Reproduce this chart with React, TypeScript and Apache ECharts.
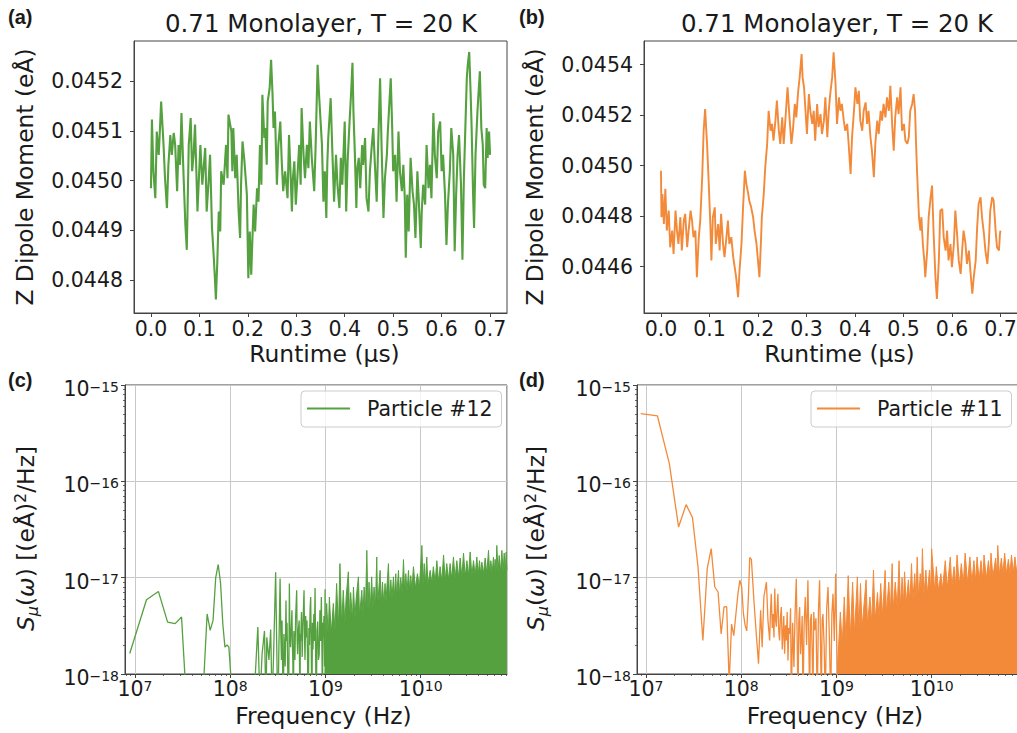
import React, { useEffect, useRef } from "react";
import * as echarts from "echarts";

// ---------- (a) Z dipole moment, particle #12 ----------
const runtimeA = [0.000,0.002,0.005,0.009,0.012,0.016,0.019,0.021,0.026,0.029,0.033,0.036,0.040,0.043,0.047,0.050,0.054,0.057,0.060,0.063,0.067,0.071,0.074,0.078,0.082,0.085,0.088,0.091,0.096,0.102,0.106,0.112,0.115,0.119,0.122,0.126,0.129,0.132,0.134,0.137,0.140,0.143,0.145,0.150,0.155,0.158,0.160,0.166,0.168,0.170,0.174,0.177,0.181,0.184,0.186,0.189,0.193,0.198,0.201,0.204,0.207,0.209,0.212,0.215,0.219,0.222,0.225,0.228,0.230,0.234,0.236,0.239,0.241,0.245,0.248,0.251,0.253,0.256,0.260,0.263,0.267,0.270,0.273,0.277,0.282,0.285,0.288,0.291,0.293,0.296,0.299,0.301,0.306,0.309,0.311,0.315,0.318,0.322,0.325,0.328,0.332,0.337,0.340,0.344,0.347,0.353,0.356,0.359,0.362,0.364,0.366,0.371,0.374,0.378,0.382,0.385,0.389,0.392,0.395,0.400,0.403,0.406,0.410,0.413,0.416,0.418,0.421,0.424,0.426,0.429,0.432,0.436,0.438,0.442,0.445,0.449,0.452,0.456,0.459,0.462,0.466,0.469,0.473,0.476,0.480,0.483,0.487,0.489,0.492,0.495,0.498,0.500,0.504,0.507,0.511,0.514,0.518,0.521,0.524,0.526,0.529,0.532,0.536,0.540,0.543,0.546,0.550,0.553,0.557,0.559,0.562,0.566,0.569,0.573,0.576,0.579,0.583,0.586,0.590,0.593,0.597,0.600,0.603,0.607,0.610,0.613,0.617,0.620,0.624,0.627,0.630,0.633,0.636,0.640,0.643,0.646,0.649,0.652,0.654,0.657,0.660,0.662,0.665,0.667,0.670,0.674,0.676,0.679,0.682,0.685,0.687,0.690,0.693,0.695,0.698,0.700];
const dipoleA = [0.044985,0.045123,0.045019,0.044965,0.045099,0.045052,0.045113,0.045159,0.045072,0.045005,0.044945,0.045032,0.045092,0.045052,0.045096,0.045072,0.044979,0.045072,0.045032,0.045136,0.045019,0.044912,0.044861,0.045072,0.045126,0.045019,0.045052,0.045113,0.044938,0.045072,0.044992,0.045066,0.044938,0.044999,0.045052,0.044905,0.044858,0.044804,0.044761,0.044838,0.044938,0.044898,0.045019,0.044992,0.045072,0.045005,0.045133,0.045099,0.045019,0.045106,0.045005,0.045052,0.044938,0.044885,0.044992,0.045079,0.045039,0.044972,0.044804,0.044898,0.044811,0.044871,0.044952,0.044898,0.044985,0.044958,0.045072,0.044992,0.045173,0.045086,0.045106,0.045032,0.045159,0.045186,0.045243,0.045173,0.045106,0.045139,0.044992,0.045072,0.045119,0.045039,0.044979,0.045019,0.044965,0.045092,0.045019,0.044938,0.045005,0.045039,0.044952,0.044985,0.045072,0.044992,0.045146,0.045052,0.045005,0.045072,0.045025,0.045119,0.045046,0.044979,0.045072,0.045233,0.045173,0.045072,0.044958,0.045019,0.044925,0.045032,0.045086,0.045166,0.045072,0.044958,0.045052,0.044992,0.044945,0.045046,0.044992,0.045119,0.044938,0.045039,0.045119,0.045173,0.045237,0.045139,0.045052,0.044945,0.045025,0.045046,0.044985,0.045072,0.045032,0.045086,0.044965,0.044938,0.045019,0.045072,0.045106,0.045039,0.044958,0.045072,0.045206,0.045072,0.044925,0.045005,0.045052,0.045099,0.045153,0.045206,0.045106,0.045019,0.045052,0.044958,0.045099,0.045019,0.044979,0.045032,0.044965,0.044845,0.044972,0.044898,0.045046,0.044979,0.044952,0.044885,0.045019,0.044958,0.044865,0.044938,0.044992,0.044952,0.045072,0.044985,0.045032,0.044965,0.045136,0.045052,0.045005,0.045099,0.045119,0.045019,0.045052,0.044972,0.044871,0.044952,0.045019,0.045106,0.045052,0.044858,0.044972,0.045052,0.045092,0.044992,0.044841,0.045005,0.045106,0.045206,0.045233,0.045259,0.045173,0.045106,0.044972,0.044905,0.045052,0.045139,0.045173,0.045220,0.045106,0.045072,0.044992,0.044985,0.045106,0.045046,0.045099,0.045052];

// ---------- (b) Z dipole moment, particle #11 ----------
const runtimeB = [0.000,0.001,0.003,0.006,0.009,0.012,0.016,0.019,0.023,0.026,0.030,0.033,0.036,0.040,0.043,0.047,0.050,0.054,0.057,0.061,0.064,0.067,0.071,0.074,0.078,0.081,0.085,0.088,0.091,0.095,0.098,0.102,0.104,0.107,0.111,0.113,0.118,0.121,0.124,0.128,0.131,0.135,0.138,0.141,0.145,0.149,0.152,0.155,0.159,0.162,0.166,0.169,0.173,0.176,0.180,0.182,0.186,0.190,0.193,0.197,0.200,0.203,0.206,0.208,0.212,0.215,0.219,0.222,0.226,0.229,0.232,0.236,0.239,0.243,0.246,0.250,0.253,0.256,0.261,0.265,0.269,0.272,0.276,0.279,0.283,0.286,0.290,0.292,0.295,0.298,0.301,0.305,0.308,0.312,0.315,0.318,0.322,0.325,0.329,0.332,0.336,0.339,0.343,0.346,0.349,0.353,0.356,0.360,0.363,0.367,0.370,0.373,0.377,0.380,0.384,0.387,0.391,0.394,0.398,0.401,0.405,0.408,0.411,0.415,0.418,0.422,0.425,0.428,0.432,0.435,0.439,0.442,0.446,0.449,0.453,0.456,0.459,0.463,0.466,0.470,0.473,0.477,0.480,0.483,0.487,0.490,0.494,0.497,0.501,0.504,0.508,0.511,0.514,0.518,0.521,0.524,0.526,0.528,0.530,0.532,0.535,0.537,0.540,0.543,0.545,0.549,0.552,0.556,0.559,0.562,0.566,0.569,0.573,0.576,0.580,0.583,0.587,0.590,0.593,0.597,0.600,0.604,0.607,0.611,0.614,0.618,0.621,0.624,0.628,0.631,0.635,0.638,0.642,0.645,0.649,0.652,0.655,0.659,0.662,0.666,0.669,0.673,0.676,0.679,0.683,0.686,0.690,0.693,0.697,0.699,0.700];
const dipoleB = [0.044980,0.044796,0.044888,0.044769,0.044908,0.044743,0.044822,0.044677,0.044743,0.044651,0.044822,0.044743,0.044690,0.044796,0.044664,0.044783,0.044809,0.044677,0.044743,0.044822,0.044783,0.044717,0.044743,0.044559,0.044717,0.044783,0.044954,0.045138,0.045224,0.045086,0.044954,0.044756,0.044625,0.044796,0.044835,0.044690,0.044769,0.044664,0.044809,0.044690,0.044638,0.044717,0.044783,0.044690,0.044717,0.044638,0.044598,0.044559,0.044480,0.044585,0.044690,0.044822,0.044980,0.044928,0.044888,0.044862,0.044835,0.044796,0.044743,0.044690,0.044625,0.044559,0.044690,0.044796,0.044888,0.044993,0.045086,0.045217,0.045138,0.045165,0.045099,0.045178,0.045257,0.045138,0.045086,0.045191,0.045086,0.045165,0.045310,0.045191,0.045086,0.045138,0.045244,0.045191,0.045296,0.045349,0.045441,0.045349,0.045310,0.045217,0.045125,0.045283,0.045217,0.045165,0.045217,0.045099,0.045244,0.045152,0.045204,0.045125,0.045178,0.045270,0.045112,0.045217,0.045283,0.045349,0.045448,0.045323,0.045165,0.045270,0.045217,0.045244,0.045178,0.045138,0.045165,0.045086,0.044967,0.045112,0.045217,0.045310,0.045244,0.045296,0.045178,0.045138,0.045217,0.045250,0.045165,0.045217,0.045112,0.045059,0.044954,0.045086,0.045178,0.045125,0.045217,0.045178,0.045244,0.045191,0.045270,0.045217,0.045316,0.045152,0.045059,0.045191,0.045270,0.045204,0.045310,0.045138,0.045165,0.045099,0.045086,0.045112,0.045217,0.045244,0.045283,0.045217,0.045086,0.044980,0.044888,0.044796,0.044743,0.044796,0.044690,0.044625,0.044559,0.044664,0.044796,0.044875,0.044921,0.044743,0.044559,0.044473,0.044625,0.044822,0.044829,0.044717,0.044664,0.044743,0.044625,0.044690,0.044598,0.044690,0.044822,0.044717,0.044625,0.044572,0.044664,0.044743,0.044690,0.044611,0.044664,0.044585,0.044493,0.044559,0.044625,0.044756,0.044848,0.044875,0.044796,0.044730,0.044664,0.044611,0.044690,0.044822,0.044875,0.044862,0.044743,0.044677,0.044664,0.044730,0.044743];

// ---------- (c) spectral density, particle #12 ----------
const freqC = [8.8e6,1.32e7,1.76e7,2.2e7,2.64e7,3.08e7,3.52e7,3.96e7,4.4e7,4.84e7,5.28e7,5.72e7,6.16e7,6.6e7,7.04e7,7.48e7,7.92e7,8.36e7,8.8e7,9.24e7,9.68e7,1.012e8,1.056e8,1.2e8,1.45e8,1.68e8,1.72e8,1.95e8,2.05e8,2.16e8,2.29e8,2.38e8,2.42e8,2.55e8,2.66e8,2.75e8,2.85e8,3.0e8,3.08e8,3.16e8,3.24e8,3.34e8,3.40e8,3.45e8,3.50e8,3.55e8,3.62e8,3.66e8,3.70e8,3.78e8,3.85e8,3.90e8,3.95e8,4.02e8,4.10e8,4.18e8,4.24e8,4.30e8,4.38e8,4.45e8,4.50e8,4.55e8,4.61e8,4.66e8,4.70e8,4.78e8,4.86e8,4.99e8,5.05e8,5.1e8,5.2e8,5.3e8,5.4e8,5.45e8,5.5e8,5.6e8,5.7e8,5.8e8,5.96e8,6.05e8,6.1e8,6.2e8,6.3e8,6.4e8,6.5e8,6.6e8,6.7e8,6.8e8,6.9e8,7.0e8,7.1e8,7.2e8,7.3e8,7.4e8,7.55e8,7.65e8,7.78e8,7.9e8,8.0e8,8.15e8,8.3e8,8.45e8,8.6e8,8.75e8,8.9e8,9.06e8,9.2e8,9.3e8,9.4e8,9.5e8,9.65e8,9.8e8,9.91e8,1.0e9];
const psdC = [1.63e-18,5.9e-18,7.2e-18,3.46e-18,3.33e-18,3.9e-18,4e-19,2e-19,2e-19,3e-19,9e-19,4.2e-18,2.84e-18,3.6e-18,1.0e-17,1.37e-17,8.7e-18,3.3e-18,1.9e-18,2.0e-18,1.9e-18,1.0e-18,3e-19,2e-19,2e-19,3e-19,3e-19,3.07e-18,5e-19,1.6e-18,2.8e-18,4e-19,2.4e-18,1.4e-18,2.9e-18,5e-19,1.5e-18,1.14e-17,2.0e-18,3e-19,1.7e-18,9.8e-18,2.6e-18,1.4e-18,3.6e-18,1.2e-18,4e-19,2.6e-18,2.0e-18,1.2e-18,5.8e-18,2.2e-18,3.4e-18,1.1e-18,3e-19,8.7e-18,2.5e-18,1.9e-18,3.1e-18,4.6e-18,2.0e-18,1.3e-18,3e-19,2.8e-18,2.4e-18,1.4e-18,3.8e-18,7.4e-18,2.2e-18,1.6e-18,2.9e-18,3.6e-18,3e-19,2.6e-18,2.2e-18,4.4e-18,1.5e-18,3.2e-18,7.4e-18,2.0e-18,1.4e-18,4.0e-18,2.4e-18,3.6e-18,1.2e-18,3e-19,3.0e-18,2.0e-18,4.8e-18,6.3e-18,1.8e-18,3e-19,3.4e-18,1.8e-18,4.2e-18,2.2e-18,7.8e-18,1.4e-18,3e-19,2.8e-18,3.5e-18,1.4e-18,1.6e-18,4.6e-18,2.2e-18,6.3e-18,1.6e-18,3e-19,3.4e-18,2.4e-18,4.0e-18,1.2e-18,7.6e-18,1.0e-18];
const freqCDense = [9.9e8,1.03e9,1.07e9,1.10e9,1.15e9,1.21e9,1.26e9,1.31e9,1.37e9,1.42e9,1.48e9,1.54e9,1.60e9,1.65e9,1.74e9,1.80e9,1.84e9,1.92e9,1.97e9,2.04e9,2.10e9,2.22e9,2.28e9,2.41e9,2.48e9,2.55e9,2.63e9,2.72e9,2.80e9,2.87e9,2.95e9,3.06e9,3.15e9,3.24e9,3.35e9,3.46e9,3.53e9,3.75e9,3.85e9,3.97e9,4.10e9,4.23e9,4.32e9,4.59e9,4.70e9,4.86e9,5.0e9,5.18e9,5.3e9,5.48e9,5.6e9,5.85e9,6.0e9,6.18e9,6.4e9,6.60e9,6.8e9,6.98e9,7.2e9,7.45e9,7.65e9,7.87e9,8.1e9,8.40e9,8.8e9,9.25e9,9.7e9,1.03e10,1.06e10,1.09e10,1.12e10,1.16e10,1.19e10,1.26e10,1.31e10,1.36e10,1.42e10,1.48e10,1.54e10,1.60e10,1.67e10,1.74e10,1.81e10,1.88e10,1.96e10,2.04e10,2.12e10,2.21e10,2.30e10,2.40e10,2.50e10,2.60e10,2.71e10,2.82e10,2.94e10,3.06e10,3.18e10,3.31e10,3.45e10,3.59e10,3.74e10,3.89e10,4.02e10,4.15e10,4.27e10,4.39e10,4.57e10,4.76e10,4.95e10,5.16e10,5.30e10,5.46e10,5.64e10,5.82e10,5.95e10,6.06e10,6.18e10,6.31e10,6.50e10,6.68e10,6.90e10,7.13e10,7.34e10,7.54e10,7.72e10,7.91e10,8.05e10];
const psdCDense = [1.0e-18,5.4e-18,2.4e-18,6.3e-18,2.6e-18,5.4e-18,2.8e-18,8.7e-18,3.0e-18,1.40e-17,3.2e-18,7.4e-18,3.3e-18,6.3e-18,1.15e-17,3.5e-18,7.0e-18,3.6e-18,8.0e-18,3.8e-18,6.0e-18,1.02e-17,4.0e-18,7.4e-18,4.2e-18,8.0e-18,4.4e-18,1.92e-17,4.6e-18,9.0e-18,4.6e-18,1.02e-17,4.8e-18,8.0e-18,5.0e-18,1.64e-17,5.0e-18,1.19e-17,5.2e-18,9.0e-18,5.4e-18,8.7e-18,5.6e-18,1.40e-17,5.8e-18,9.5e-18,6.0e-18,1.02e-17,6.2e-18,1.1e-17,6.3e-18,1.19e-17,6.5e-18,1.0e-17,6.7e-18,1.54e-17,6.9e-18,1.1e-17,7.1e-18,1.19e-17,7.3e-18,1.05e-17,7.5e-18,1.30e-17,7.8e-18,1.1e-17,8.0e-18,2.16e-17,8.3e-18,1.4e-17,8.4e-18,1.64e-17,8.5e-18,1.19e-17,8.7e-18,1.3e-17,8.9e-18,1.50e-17,9.0e-18,1.3e-17,9.2e-18,1.72e-17,9.3e-18,1.4e-17,9.5e-18,1.4e-17,9.6e-18,1.64e-17,9.8e-18,1.5e-17,1.0e-17,1.6e-17,1.0e-17,1.8e-17,1.02e-17,1.5e-17,1.04e-17,1.85e-17,1.05e-17,1.5e-17,1.06e-17,1.64e-17,1.07e-17,1.5e-17,1.08e-17,1.45e-17,1.1e-17,1.6e-17,1.1e-17,1.92e-17,1.12e-17,1.5e-17,1.12e-17,1.64e-17,1.13e-17,1.55e-17,1.13e-17,2.16e-17,1.14e-17,1.7e-17,1.15e-17,1.92e-17,1.15e-17,1.8e-17,1.16e-17,1.85e-17,1.2e-17];

// ---------- (d) spectral density, particle #11 ----------
const freqD = [8.8e6,1.32e7,1.76e7,2.2e7,2.64e7,3.08e7,3.52e7,3.96e7,4.4e7,4.84e7,5.28e7,5.72e7,6.16e7,6.6e7,7.04e7,7.48e7,7.92e7,8.36e7,8.8e7,9.24e7,9.68e7,1.012e8,1.056e8,1.10e8,1.144e8,1.19e8,1.23e8,1.28e8,1.36e8,1.44e8,1.52e8,1.60e8,1.66e8,1.73e8,1.84e8,1.91e8,1.99e8,2.03e8,2.07e8,2.12e8,2.16e8,2.21e8,2.25e8,2.30e8,2.34e8,2.39e8,2.43e8,2.48e8,2.53e8,2.58e8,2.64e8,2.70e8,2.75e8,2.80e8,2.86e8,2.92e8,2.98e8,3.04e8,3.10e8,3.16e8,3.23e8,3.30e8,3.36e8,3.47e8,3.58e8,3.68e8,3.79e8,3.87e8,3.95e8,4.03e8,4.11e8,4.20e8,4.28e8,4.37e8,4.46e8,4.58e8,4.71e8,4.86e8,5.02e8,5.12e8,5.23e8,5.34e8,5.45e8,5.56e8,5.67e8,5.78e8,5.90e8,6.10e8,6.29e8,6.48e8,6.66e8,6.80e8,6.94e8,7.08e8,7.22e8,7.43e8,7.64e8,7.90e8,8.16e8,8.43e8,8.71e8,8.96e8,9.21e8,9.50e8,9.82e8,1.01e9,1.04e9];
const psdD = [5.05e-16,4.77e-16,1.53e-16,3.36e-17,5.73e-17,4.2e-17,1.29e-17,2.23e-18,1.24e-17,2.0e-17,8.0e-18,7.1e-18,2.6e-18,4.96e-18,5.0e-18,8e-19,3.3e-18,2.5e-18,4.2e-18,6.8e-18,9.4e-18,8.0e-18,4.2e-18,3.2e-18,2.8e-18,6.3e-18,1.62e-17,1.55e-17,5.8e-18,2.6e-18,1.28e-18,4.6e-18,1.9e-18,6.3e-18,9.0e-18,3.6e-18,2.23e-18,4.4e-18,6.8e-18,3.0e-18,4.2e-18,2.4e-18,7.7e-18,3.6e-18,3.1e-18,5.0e-18,6.8e-18,2.8e-18,2.23e-18,3.8e-18,4.95e-18,1.8e-18,2.6e-18,4.0e-18,1.62e-18,3.2e-18,2.23e-18,4.4e-18,1.38e-18,3.0e-18,2.6e-18,4.8e-18,5e-19,3.4e-18,1.18e-18,4.2e-18,9.75e-18,2.4e-18,5e-19,3.6e-18,4.95e-18,1.6e-18,2.23e-18,4.0e-18,5e-19,3.2e-18,6.3e-18,2.0e-18,9.4e-18,2.6e-18,5e-19,3.6e-18,4.2e-18,1.8e-18,5e-19,4.4e-18,2.84e-18,3.8e-18,5e-19,4.6e-18,9.4e-18,2.2e-18,5e-19,3.6e-18,4.2e-18,2.0e-18,5e-19,4.8e-18,8.0e-18,2.4e-18,5e-19,4.2e-18,6.8e-18,2.2e-18,1.10e-17,2.0e-18,5e-19];
const freqDDense = [1.0e9,1.04e9,1.10e9,1.15e9,1.21e9,1.26e9,1.33e9,1.40e9,1.48e9,1.55e9,1.66e9,1.72e9,1.79e9,1.86e9,2.05e9,2.12e9,2.25e9,2.35e9,2.45e9,2.55e9,2.70e9,2.80e9,2.92e9,3.05e9,3.25e9,3.35e9,3.55e9,3.68e9,3.85e9,3.95e9,4.15e9,4.35e9,4.55e9,4.70e9,4.90e9,5.05e9,5.20e9,5.40e9,5.70e9,5.90e9,6.15e9,6.35e9,6.65e9,6.85e9,7.05e9,7.30e9,7.60e9,7.80e9,8.0e9,8.3e9,8.7e9,9.0e9,9.5e9,9.8e9,1.0e10,1.08e10,1.12e10,1.18e10,1.25e10,1.30e10,1.39e10,1.46e10,1.57e10,1.63e10,1.72e10,1.78e10,1.85e10,1.95e10,2.05e10,2.15e10,2.25e10,2.38e10,2.52e10,2.65e10,2.78e10,2.90e10,3.0e10,3.15e10,3.30e10,3.45e10,3.55e10,3.75e10,3.95e10,4.10e10,4.20e10,4.40e10,4.70e10,4.85e10,4.95e10,5.15e10,5.40e10,5.60e10,5.85e10,6.10e10,6.40e10,6.65e10,6.90e10,7.20e10,7.50e10,7.80e10,8.05e10,8.25e10];
const psdDDense = [5e-19,1.5e-18,4.4e-18,2.0e-18,6.3e-18,2.2e-18,1.05e-17,2.4e-18,9.0e-18,2.6e-18,1.02e-17,2.8e-18,8.7e-18,3.0e-18,9.5e-18,3.2e-18,6.3e-18,3.4e-18,1.2e-17,3.6e-18,7.0e-18,3.8e-18,8.7e-18,4.0e-18,1.19e-17,4.2e-18,9.0e-18,4.4e-18,1.4e-17,4.6e-18,9.0e-18,4.8e-18,1.5e-17,5.0e-18,1.0e-17,5.2e-18,1.15e-17,5.4e-18,9.5e-18,5.6e-18,1.4e-17,5.8e-18,1.1e-17,6.0e-18,1.64e-17,6.2e-18,1.1e-17,6.4e-18,2.0e-17,6.6e-18,1.2e-17,6.8e-18,1.2e-17,7.0e-18,2.0e-17,7.2e-18,1.3e-17,7.4e-18,1.1e-17,7.6e-18,1.5e-17,7.8e-18,1.64e-17,8.0e-18,1.3e-17,8.2e-18,1.72e-17,8.4e-18,1.4e-17,8.6e-18,1.8e-17,8.8e-18,1.64e-17,9.0e-18,1.5e-17,9.2e-18,1.64e-17,9.4e-18,1.5e-17,9.6e-18,1.72e-17,9.8e-18,1.5e-17,1.0e-17,1.8e-17,1.02e-17,1.6e-17,1.04e-17,2.16e-17,1.06e-17,1.6e-17,1.08e-17,1.8e-17,1.1e-17,1.55e-17,1.1e-17,1.72e-17,1.12e-17,1.64e-17,1.13e-17,1.5e-17,1.2e-17];

// ---------- tick labels ----------
const runtimeTicks = [0.0, 0.1, 0.2, 0.3, 0.4, 0.5, 0.6, 0.7];
const dipoleTicksA = [0.0448, 0.0449, 0.045, 0.0451, 0.0452];
const dipoleTicksB = [0.0446, 0.0448, 0.045, 0.0452, 0.0454];

const FONT = "'DejaVu Sans', 'Noto Sans', sans-serif";
const PANEL_FAMILY = "'Liberation Sans', Arial, sans-serif";
const GREEN = "#55a13f";
const ORANGE = "#f28a3a";
const INK = "#1a1a1a";
const FRAME = "#444444";
const GRIDC = "#c9c9c9";

const pairs = (xs: number[], ys: number[]) => {
  const n = Math.min(xs.length, ys.length);
  const out: number[][] = [];
  for (let i = 0; i < n; i++) out.push([xs[i], ys[i]]);
  return out;
};

const logLabel = (v: number) => {
  const e = Math.round(Math.log10(v));
  return `{b|10}{s|${e < 0 ? "\u2212" + -e : e}}`;
};
const supRich = {
  b: { fontFamily: FONT, fontSize: 20.5, lineHeight: 20, verticalAlign: "bottom", color: INK },
  s: { fontFamily: FONT, fontSize: 14, lineHeight: 10, verticalAlign: "top", color: INK },
};

const minorList = (lo: number, hi: number) => {
  const out: number[] = [];
  for (let e = -20; e <= 12; e++) {
    for (let m = 2; m <= 9; m++) {
      const v = m * Math.pow(10, e);
      if (v > lo && v < hi) out.push(v);
    }
  }
  return out;
};

function timeAxis(gridIndex: number, padLeft: number) {
  return {
    type: "value", gridIndex, min: -0.035, max: 0.735, minInterval: 0.1, maxInterval: 0.1,
    name: "Runtime (µs)", nameLocation: "middle", nameGap: 27,
    nameTextStyle: { fontFamily: FONT, fontSize: 23.4, color: INK, lineHeight: 28, padding: [0, 0, 0, padLeft] },
    axisLine: { show: true, onZero: false, lineStyle: { color: FRAME, width: 1 } },
    axisTick: { show: true, inside: false, length: 4, lineStyle: { color: FRAME, width: 1 }, customValues: runtimeTicks },
    axisLabel: { show: true, interval: 0, margin: 5, fontFamily: FONT, fontSize: 20.5, color: INK, formatter: (v: number) => v.toFixed(1), customValues: runtimeTicks },
    splitLine: { show: false },
  };
}

function dipoleAxis(gridIndex: number, min: number, max: number, step: number, ticks: number[]) {
  return {
    type: "value", gridIndex, min, max, minInterval: step, maxInterval: step,
    name: "Z Dipole Moment (eÅ)", nameLocation: "middle", nameGap: 95,
    nameTextStyle: { fontFamily: FONT, fontSize: 23.4, color: INK, lineHeight: 28 },
    axisLine: { show: true, onZero: false, lineStyle: { color: FRAME, width: 1 } },
    axisTick: { show: true, inside: false, length: 4, lineStyle: { color: FRAME, width: 1 }, customValues: ticks },
    axisLabel: { show: true, interval: 0, margin: 11, fontFamily: FONT, fontSize: 20.5, color: INK, formatter: (v: number) => v.toFixed(4), customValues: ticks },
    splitLine: { show: false },
  };
}

function freqAxis(gridIndex: number, min: number, max: number, padLeft: number) {
  return {
    type: "log", logBase: 10, gridIndex, min, max,
    name: "Frequency (Hz)", nameLocation: "middle", nameGap: 31,
    nameTextStyle: { fontFamily: FONT, fontSize: 23.4, color: INK, lineHeight: 22, padding: [0, 0, 0, padLeft] },
    axisLine: { show: true, onZero: false, lineStyle: { color: FRAME, width: 1 } },
    axisTick: { show: true, inside: false, length: 4, lineStyle: { color: FRAME, width: 1 } },
    axisLabel: { show: true, interval: 0, margin: 5, showMinLabel: false, showMaxLabel: false, formatter: logLabel, rich: supRich },
    splitLine: { show: true, lineStyle: { color: GRIDC, width: 1 } },
    minorTick: { show: false },
  };
}

function psdAxis(gridIndex: number, nameGap: number) {
  return {
    type: "log", logBase: 10, gridIndex, min: 1e-18, max: 1e-15,
    name: "{i|S}{sub|μ}{n|(}{i|ω}{n|) [(eÅ)}{sup|2}{n|/Hz]}",
    nameLocation: "middle", nameGap,
    nameTextStyle: {
      fontFamily: FONT, fontSize: 23.4, color: INK, lineHeight: 28, padding: [0, 18, 0, 0],
      rich: {
        i: { fontFamily: FONT, fontStyle: "italic", fontSize: 23.4, lineHeight: 28, color: INK },
        n: { fontFamily: FONT, fontSize: 23.4, lineHeight: 28, color: INK },
        sub: { fontFamily: FONT, fontStyle: "italic", fontSize: 16, lineHeight: 16, verticalAlign: "bottom", color: INK },
        sup: { fontFamily: FONT, fontSize: 16, lineHeight: 16, verticalAlign: "top", color: INK },
      },
    },
    axisLine: { show: true, onZero: false, lineStyle: { color: FRAME, width: 1 } },
    axisTick: { show: true, inside: false, length: 4, lineStyle: { color: FRAME, width: 1 } },
    axisLabel: { show: true, interval: 0, margin: 6, padding: [9, 0, 0, 0], formatter: logLabel, rich: supRich },
    splitLine: { show: true, lineStyle: { color: GRIDC, width: 1 } },
  };
}

function minorX(gridIndex: number, min: number, max: number) {
  return {
    type: "log", logBase: 10, gridIndex, min, max, position: "bottom",
    axisLine: { show: false }, axisLabel: { show: false }, splitLine: { show: false },
    axisTick: { show: true, inside: false, length: 2, lineStyle: { color: FRAME, width: 0.8 }, customValues: minorList(min, max) },
  };
}
function minorY(gridIndex: number) {
  return {
    type: "log", logBase: 10, gridIndex, min: 1e-18, max: 1e-15, position: "left",
    axisLine: { show: false }, axisLabel: { show: false }, splitLine: { show: false },
    axisTick: { show: true, inside: false, length: 2, lineStyle: { color: FRAME, width: 0.8 }, customValues: minorList(1e-18, 1e-15) },
  };
}

const legendBase = {
  orient: "horizontal", itemWidth: 43, itemHeight: 2, itemGap: 0,
  padding: [5, 9, 6, 6], selectedMode: false,
  borderColor: "#cccccc", borderWidth: 1, borderRadius: 4, backgroundColor: "rgba(255,255,255,0.8)",
  textStyle: { fontFamily: FONT, fontSize: 20.5, color: INK, lineHeight: 25, padding: [0, 0, 0, 12] },
};

const gridBase = { show: true, borderColor: FRAME, borderWidth: 1, backgroundColor: "transparent", containLabel: false, outerBoundsMode: "none" };

const panelLabel = (text: string, x: number, y: number) => ({
  type: "text", x, y,
  style: { text, fontSize: 20, fontWeight: "bold", fontFamily: PANEL_FAMILY, fill: INK, textVerticalAlign: "middle", verticalAlign: "middle" },
});
const titleText = (x: number) => ({
  type: "text", x, y: 23,
  style: { text: "0.71 Monolayer, T = 20 K", fontSize: 24.5, fontFamily: FONT, fill: INK, textAlign: "center", align: "center", textVerticalAlign: "middle", verticalAlign: "middle" },
});

function buildOption() {
  const XMIN_C = 7.85e6, XMAX_C = 8.07e10;
  const XMIN_D = 8.05e6, XMAX_D = 8.27e10;
  return {
    animation: false,
    backgroundColor: "#ffffff",
    grid: [
      { ...gridBase, left: 134, top: 41, width: 373, height: 272 },
      { ...gridBase, left: 644, top: 41, width: 380, height: 272 },
      { ...gridBase, left: 125, top: 385, width: 382, height: 289 },
      { ...gridBase, left: 637, top: 385, width: 382, height: 289 },
    ],
    xAxis: [
      timeAxis(0, 8),
      { ...timeAxis(1, 11), min: -0.035, max: 0.7486 },
      freqAxis(2, XMIN_C, XMAX_C, 15),
      freqAxis(3, XMIN_D, XMAX_D, 14),
      minorX(2, XMIN_C, XMAX_C),
      minorX(3, XMIN_D, XMAX_D),
    ],
    yAxis: [
      dipoleAxis(0, 0.044734, 0.045281, 0.0001, dipoleTicksA),
      dipoleAxis(1, 0.044417, 0.045493, 0.0002, dipoleTicksB),
      psdAxis(2, 85),
      psdAxis(3, 87),
      minorY(2),
      minorY(3),
    ],
    legend: [
      { ...legendBase, left: 301, top: 391, data: [{ name: "Particle #12", icon: "rect" }] },
      { ...legendBase, left: 811, top: 391, data: [{ name: "Particle #11", icon: "rect" }] },
    ],
    graphic: [
      titleText(321),
      titleText(837),
      panelLabel("(a)", 8, 17),
      panelLabel("(b)", 519, 17),
      panelLabel("(c)", 8, 380),
      panelLabel("(d)", 519, 380),
    ],
    series: [
      {
        type: "line", name: "Dipole #12", xAxisIndex: 0, yAxisIndex: 0, data: pairs(runtimeA, dipoleA),
        showSymbol: false, symbol: "none", itemStyle: { color: GREEN }, lineStyle: { color: GREEN, width: 2.1 },
      },
      {
        type: "line", name: "Dipole #11", xAxisIndex: 1, yAxisIndex: 1, data: pairs(runtimeB, dipoleB),
        showSymbol: false, symbol: "none", itemStyle: { color: ORANGE }, lineStyle: { color: ORANGE, width: 1.9 },
      },
      {
        type: "line", name: "Particle #12", xAxisIndex: 2, yAxisIndex: 2, data: pairs(freqC, psdC),
        showSymbol: false, symbol: "none", clip: true, itemStyle: { color: GREEN }, lineStyle: { color: GREEN, width: 1.3 },
      },
      {
        type: "line", name: "Particle #12", xAxisIndex: 2, yAxisIndex: 2, data: pairs(freqCDense, psdCDense),
        showSymbol: false, symbol: "none", clip: true, itemStyle: { color: GREEN }, lineStyle: { color: GREEN, width: 1 },
        areaStyle: { color: GREEN, opacity: 1, origin: "start" },
      },
      {
        type: "line", name: "Particle #11", xAxisIndex: 3, yAxisIndex: 3, data: pairs(freqD, psdD),
        showSymbol: false, symbol: "none", clip: true, itemStyle: { color: ORANGE }, lineStyle: { color: ORANGE, width: 1.3 },
      },
      {
        type: "line", name: "Particle #11", xAxisIndex: 3, yAxisIndex: 3, data: pairs(freqDDense, psdDDense),
        showSymbol: false, symbol: "none", clip: true, itemStyle: { color: ORANGE }, lineStyle: { color: ORANGE, width: 1 },
        areaStyle: { color: ORANGE, opacity: 1, origin: "start" },
      },
    ],
  };
}

export default function App() {
  const ref = useRef<HTMLDivElement>(null);
  useEffect(() => {
    document.body.style.margin = "0";
    const chart = echarts.init(ref.current as HTMLDivElement, undefined, { renderer: "svg" });
    chart.setOption(buildOption() as any);
    return () => chart.dispose();
  }, []);
  return <div ref={ref} style={{ width: 1017, height: 733, overflow: "hidden" }} />;
}
